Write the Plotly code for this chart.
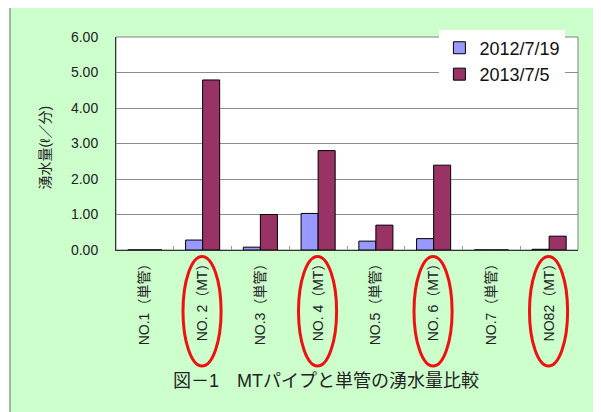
import plotly.graph_objects as go

categories = ["NO.1（単管）", "NO. 2（MT）", "NO.3（単管）", "NO. 4（MT）",
              "NO.5（単管）", "NO. 6（MT）", "NO.7（単管）", "NO82（MT）"]
series_2012 = [0.0, 0.28, 0.08, 1.03, 0.25, 0.32, 0.0, 0.02]
series_2013 = [0.0, 4.79, 1.0, 2.8, 0.70, 2.39, 0.0, 0.39]
series_names = ["2012/7/19", "2013/7/5"]
circled = [1, 3, 5, 7]
y_ticks = [0, 1, 2, 3, 4, 5, 6]

FONT = "Arial, 'Liberation Sans', 'Noto Sans CJK JP', sans-serif"

fig = go.Figure()
fig.add_trace(go.Bar(x=categories, y=series_2012, name=series_names[0],
                     marker=dict(color="#9999FF", line=dict(color="#000000", width=1)),
                     legendgroup="a"))
fig.add_trace(go.Bar(x=categories, y=series_2013, name=series_names[1],
                     marker=dict(color="#993366", line=dict(color="#000000", width=1)),
                     legendgroup="b"))

shapes = [
    dict(type="rect", xref="paper", yref="paper", layer="below",
         x0=-0.2294, x1=1.1, y0=-0.9, y1=1.1408,
         fillcolor="#CCFFCC", line=dict(color="#A0B8A0", width=2)),
    dict(type="rect", xref="paper", yref="paper", layer="below",
         x0=0, x1=1, y0=0, y1=1,
         fillcolor="#FFFFFF", line=dict(color="#808080", width=1)),
]
for i in circled:
    shapes.append(dict(type="circle", xref="x", yref="paper",
                       x0=i - 0.34, x1=i + 0.32, y0=-0.545, y1=-0.03,
                       line=dict(color="#EE1111", width=3)))

fig.update_layout(
    width=601, height=412,
    margin=dict(l=108, r=31, t=29, b=170),
    paper_bgcolor="#FFFFFF",
    plot_bgcolor="rgba(0,0,0,0)",
    font=dict(family=FONT, color="#222222", size=13),
    barmode="group",
    bargap=0.41,
    bargroupgap=0,
    showlegend=True,
    legend=dict(x=0.70, y=1.035, xanchor="left", yanchor="top",
                bgcolor="#FFFFFF", font=dict(size=18, color="#111111"),
                tracegroupgap=0, borderwidth=0, itemwidth=30),
    shapes=shapes,
    annotations=[
        dict(text="図－1　MTパイプと単管の湧水量比較", xref="paper", yref="paper",
             x=0.4545, y=-0.615, showarrow=False, xanchor="center", yanchor="middle",
             font=dict(size=18, color="#222222")),
        dict(text="湧水量(ℓ／分)", xref="paper", yref="paper",
             x=-0.154, y=0.48, showarrow=False, textangle=-90,
             xanchor="center", yanchor="middle",
             font=dict(size=14, color="#222222")),
    ],
)
fig.update_xaxes(type="category", tickangle=-90, showgrid=False,
                 showline=True, linecolor="#333333", linewidth=1,
                 ticks="inside", tickson="boundaries", ticklen=4, tickcolor="#999999",
                 tickfont=dict(size=14, color="#222222"))
fig.update_yaxes(range=[0, 6], tickvals=y_ticks,
                 ticktext=[f"{v:.2f}" for v in y_ticks],
                 showgrid=True, gridcolor="#8C8C8C", gridwidth=1,
                 showline=True, linecolor="#333333", linewidth=1,
                 ticklabelstandoff=14, zeroline=False,
                 tickfont=dict(size=14, color="#222222"))

fig.write_html("out.html")
